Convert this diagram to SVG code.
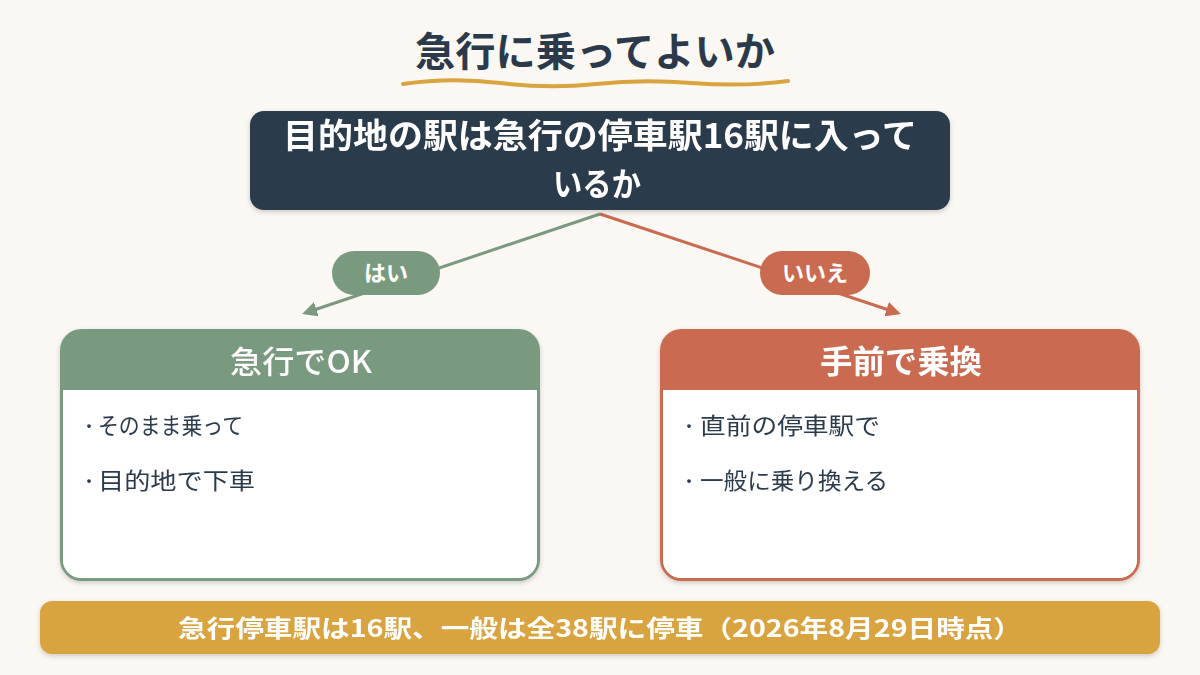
<svg xmlns="http://www.w3.org/2000/svg" width="1200" height="675" viewBox="0 0 1200 675">
<defs>
<style>
.jp{font-family:"Noto Sans CJK JP","Noto Sans",sans-serif}
.w{fill:#ffffff}
.d{fill:#2B3A4B}
.b{font-size:23px}
.bul{font-size:18px}
</style>
<filter id="sh" x="-10%" y="-10%" width="120%" height="130%">
<feDropShadow dx="0" dy="2" stdDeviation="2.5" flood-color="#000" flood-opacity="0.18"/>
</filter>
<marker id="ag" viewBox="0 0 10 10" refX="8" refY="5" markerWidth="5" markerHeight="5" orient="auto"><path d="M0,0 L10,5 L0,10 z" fill="#7A9A80"/></marker>
<marker id="ar" viewBox="0 0 10 10" refX="8" refY="5" markerWidth="5" markerHeight="5" orient="auto"><path d="M0,0 L10,5 L0,10 z" fill="#C96B51"/></marker>
</defs>
<rect width="1200" height="675" fill="#FBF7F2"/>
<g id="title">
<text x="595" y="66" text-anchor="middle" class="jp d" font-size="40" font-weight="700" textLength="360" lengthAdjust="spacingAndGlyphs">急行に乗ってよいか</text>
<path d="M403,84 Q450,77 500,83 T596,84 T692,83 T788,81" fill="none" stroke="#D9A440" stroke-width="4" stroke-linecap="round"/>
</g>
<g id="connectors">
<line x1="600" y1="214" x2="305" y2="313" stroke="#7A9A80" stroke-width="3" marker-end="url(#ag)"/>
<line x1="600" y1="214" x2="898" y2="313" stroke="#C96B51" stroke-width="3" marker-end="url(#ar)"/>
<g id="label-yes">
<rect x="332" y="251" width="108" height="44" rx="22" fill="#7A9A80"/>
<text x="386" y="281" text-anchor="middle" class="jp w" font-size="22" font-weight="700">はい</text>
</g>
<g id="label-no">
<rect x="760" y="251" width="110" height="44" rx="22" fill="#C96B51"/>
<text x="815" y="281" text-anchor="middle" class="jp w" font-size="22" font-weight="700">いいえ</text>
</g>
</g>
<g id="question" filter="url(#sh)">
<rect x="250" y="111" width="700" height="99" rx="14" fill="#2B3A4B"/>
<text x="600" y="148" text-anchor="middle" class="jp w" font-size="34" font-weight="700" textLength="634" lengthAdjust="spacingAndGlyphs">目的地の駅は急行の停車駅16駅に入って</text>
<text x="597" y="196" text-anchor="middle" class="jp w" font-size="33" font-weight="700" textLength="88" lengthAdjust="spacingAndGlyphs">いるか</text>
</g>
<g id="card-yes" filter="url(#sh)">
<path d="M62,390 V350 a20,20 0 0 1 20,-20 H518 a20,20 0 0 1 20,20 V390 Z" fill="#7A9A80"/>
<rect x="61.5" y="330.5" width="477" height="249" rx="20" fill="none" stroke="#7A9A80" stroke-width="3"/>
<path d="M63,390 H537 V560 a18,18 0 0 1 -18,18 H81 a18,18 0 0 1 -18,-18 Z" fill="#ffffff"/>
<text x="301" y="373" text-anchor="middle" class="jp w" font-size="31" font-weight="500" textLength="142" lengthAdjust="spacingAndGlyphs">急行でOK</text>
<text x="80" y="433" class="jp d bul">・</text>
<text x="98" y="434" class="jp d b" textLength="145" lengthAdjust="spacingAndGlyphs">そのまま乗って</text>
<text x="80" y="488" class="jp d bul">・</text>
<text x="98" y="489" class="jp d b" textLength="157" lengthAdjust="spacingAndGlyphs">目的地で下車</text>
</g>
<g id="card-no" filter="url(#sh)">
<path d="M662,390 V350 a20,20 0 0 1 20,-20 H1118 a20,20 0 0 1 20,20 V390 Z" fill="#C96B51"/>
<rect x="661.5" y="330.5" width="477" height="249" rx="20" fill="none" stroke="#C96B51" stroke-width="3"/>
<path d="M663,390 H1137 V560 a18,18 0 0 1 -18,18 H681 a18,18 0 0 1 -18,-18 Z" fill="#ffffff"/>
<text x="901" y="373" text-anchor="middle" class="jp w" font-size="32" font-weight="700" textLength="162" lengthAdjust="spacingAndGlyphs">手前で乗換</text>
<text x="680" y="433" class="jp d bul">・</text>
<text x="700" y="434" class="jp d b" textLength="180" lengthAdjust="spacingAndGlyphs">直前の停車駅で</text>
<text x="680" y="488" class="jp d bul">・</text>
<text x="700" y="489" class="jp d b" textLength="188" lengthAdjust="spacingAndGlyphs">一般に乗り換える</text>
</g>
<g id="footer" filter="url(#sh)">
<rect x="40" y="601" width="1120" height="53" rx="12" fill="#D9A440"/>
<text x="600" y="637" text-anchor="middle" class="jp w" font-size="24" font-weight="700" textLength="844" lengthAdjust="spacingAndGlyphs">急行停車駅は16駅、一般は全38駅に停車（2026年8月29日時点）</text>
</g>
</svg>
